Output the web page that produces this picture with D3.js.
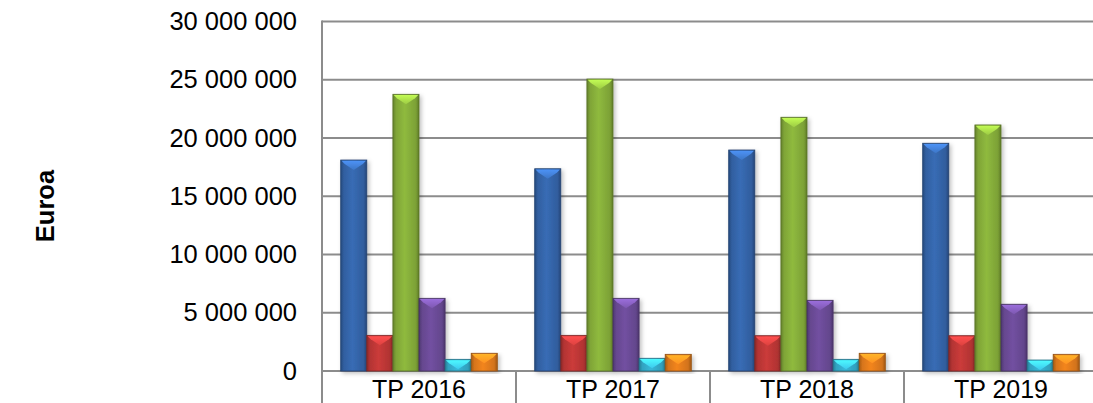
<!DOCTYPE html>
<html>
<head>
<meta charset="utf-8">
<script src="https://cdn.jsdelivr.net/npm/d3@7/dist/d3.min.js"></script>
<style>
  html, body { margin: 0; padding: 0; background: #fff; }
  svg { display: block; font-family: "Liberation Sans", Arial, sans-serif; }
</style>
</head>
<body>
<div id="chart"></div>
<script>
// data
var categories = ['TP 2016', 'TP 2017', 'TP 2018', 'TP 2019'];
var seriesKeys = ['s1', 's2', 's3', 's4', 's5', 's6'];
var s1 = [18110000, 17360000, 18970000, 19550000];
var s2 = [3060000, 3060000, 3030000, 3030000];
var s3 = [23750000, 25060000, 21780000, 21120000];
var s4 = [6240000, 6240000, 6070000, 5730000];
var s5 = [1000000, 1090000, 1000000, 940000];
var s6 = [1520000, 1430000, 1520000, 1430000];
var yTicks = [0, 5000000, 10000000, 15000000, 20000000, 25000000, 30000000];
var yTitle = 'Euroa';

var seriesValues = [s1, s2, s3, s4, s5, s6];
var colors = ['#3566AC', '#C03837', '#88B03B', '#6C4C99', '#35AECE', '#E67E1D'];

var W = 1093, H = 403;
var margin = {top: 21.5, left: 322, right: 1098, bottom: 371};

var svg = d3.select('#chart').append('svg')
  .attr('width', W)
  .attr('height', H);

var defs = svg.append('defs');

var x0 = d3.scaleBand().domain(categories).range([margin.left, margin.right]).paddingInner(0).paddingOuter(0);
var bandPad = 18.7;
var x1 = d3.scaleBand().domain(seriesKeys).range([bandPad, x0.bandwidth() - bandPad]).padding(0);
var y = d3.scaleLinear().domain([0, 30000000]).range([margin.bottom, margin.top]);

// gradients per series
seriesKeys.forEach(function(k, i) {
  var c = d3.color(colors[i]);
  var g = defs.append('linearGradient').attr('id', 'g-' + k)
    .attr('x1', '0%').attr('x2', '100%').attr('y1', '0%').attr('y2', '0%');
  g.append('stop').attr('offset', '0%').attr('stop-color', c.darker(0.9));
  g.append('stop').attr('offset', '12%').attr('stop-color', c.darker(0.2));
  g.append('stop').attr('offset', '45%').attr('stop-color', c.brighter(0.15));
  g.append('stop').attr('offset', '88%').attr('stop-color', c.darker(0.25));
  g.append('stop').attr('offset', '100%').attr('stop-color', c.darker(1.0));

  var t = defs.append('linearGradient').attr('id', 't-' + k)
    .attr('x1', '0%').attr('x2', '0%').attr('y1', '0%').attr('y2', '100%');
  t.append('stop').attr('offset', '0%').attr('stop-color', c.brighter(1.0));
  t.append('stop').attr('offset', '100%').attr('stop-color', c.brighter(0.4));
});

var shadow = defs.append('filter').attr('id', 'shadow')
  .attr('x', '-20%').attr('y', '-5%').attr('width', '150%').attr('height', '120%');
shadow.append('feDropShadow').attr('dx', 2).attr('dy', 2).attr('stdDeviation', 2)
  .attr('flood-color', '#000').attr('flood-opacity', 0.25);

// gridlines
svg.append('g').selectAll('line')
  .data(yTicks)
  .enter().append('line')
  .attr('x1', margin.left).attr('x2', margin.right)
  .attr('y1', function(d) { return y(d); })
  .attr('y2', function(d) { return y(d); })
  .attr('stroke', '#8c8c8c')
  .attr('stroke-width', 2);

// y axis labels
var yAxis = d3.axisLeft(y)
  .tickValues(yTicks)
  .tickSize(0)
  .tickPadding(0)
  .tickFormat(function(d) { return d3.format(',')(d).replace(/,/g, ' '); });

var yg = svg.append('g')
  .attr('transform', 'translate(' + 297 + ',0)')
  .call(yAxis);
yg.select('.domain').remove();
yg.selectAll('text')
  .attr('font-size', 25.5)
  .attr('font-family', '"Liberation Sans", Arial, sans-serif')
  .attr('fill', '#000');

// y axis vertical line
svg.append('line')
  .attr('x1', margin.left).attr('x2', margin.left)
  .attr('y1', y(30000000) - 1).attr('y2', H)
  .attr('stroke', '#8c8c8c').attr('stroke-width', 2);

// category separators
svg.append('g').selectAll('line')
  .data(categories.slice(1))
  .enter().append('line')
  .attr('x1', function(d) { return x0(d); })
  .attr('x2', function(d) { return x0(d); })
  .attr('y1', margin.bottom).attr('y2', H)
  .attr('stroke', '#8c8c8c').attr('stroke-width', 2);

// bars
var rows = categories.map(function(c, ci) {
  return {cat: c, vals: seriesKeys.map(function(k, si) { return {key: k, value: seriesValues[si][ci]}; })};
});

var groups = svg.append('g').selectAll('g')
  .data(rows)
  .enter().append('g')
  .attr('transform', function(d) { return 'translate(' + x0(d.cat) + ',0)'; });

var bars = groups.selectAll('g.bar')
  .data(function(d) { return d.vals; })
  .enter().append('g')
  .attr('class', 'bar')
  .attr('filter', 'url(#shadow)');

bars.append('rect')
  .attr('x', function(d) { return x1(d.key); })
  .attr('y', function(d) { return y(d.value); })
  .attr('width', x1.bandwidth())
  .attr('height', function(d) { return y(0) - y(d.value); })
  .attr('fill', function(d) { return 'url(#g-' + d.key + ')'; })
  .attr('stroke', function(d, i) { return d3.color(colors[i]).darker(1.2); })
  .attr('stroke-width', 0.8);

// top bevel
bars.append('path')
  .attr('d', function(d) {
    var bx = x1(d.key), bw = x1.bandwidth(), top = y(d.value);
    return 'M' + (bx + 0.8) + ',' + (top + 0.8) +
      'L' + (bx + bw - 0.8) + ',' + (top + 0.8) +
      'L' + (bx + bw - 4) + ',' + (top + 4) +
      'L' + (bx + bw / 2) + ',' + (top + 10) +
      'L' + (bx + 4) + ',' + (top + 4) + 'Z';
  })
  .attr('fill', function(d) { return 'url(#t-' + d.key + ')'; });

// category labels
svg.append('g').selectAll('text')
  .data(categories)
  .enter().append('text')
  .attr('x', function(d) { return x0(d) + x0.bandwidth() / 2; })
  .attr('y', 398)
  .attr('text-anchor', 'middle')
  .attr('font-size', 25)
  .attr('fill', '#000')
  .text(function(d) { return d; });

// y title
svg.append('text')
  .attr('transform', 'translate(' + 54 + ',' + 206 + ') rotate(-90)')
  .attr('text-anchor', 'middle')
  .attr('font-size', 25.5)
  .attr('font-weight', 'bold')
  .attr('fill', '#000')
  .text(yTitle);
</script>
</body>
</html>
